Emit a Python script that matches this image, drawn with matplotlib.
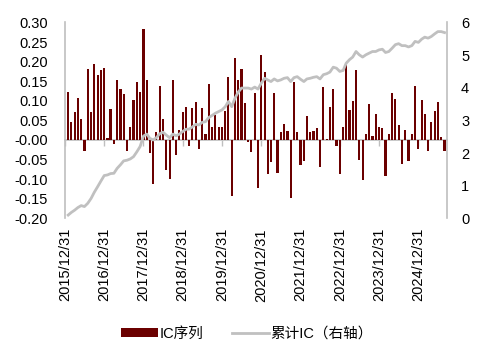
import matplotlib
matplotlib.use('Agg')
import matplotlib.pyplot as plt
import matplotlib.dates as mdates
import numpy as np
import pandas as pd

plt.rcParams['font.family'] = ['Liberation Sans', 'Noto Sans CJK SC', 'DejaVu Sans']
plt.rcParams['axes.unicode_minus'] = False

# monthly IC values (2016/01 .. 2025/08)
ic = [0.122, 0.046, 0.071, 0.107, 0.054, -0.028, 0.182, 0.072, 0.193, 0.165, 0.179, 0.185,
      0.006, 0.078, -0.011, 0.153, 0.129, 0.118, -0.029, 0.033, 0.102, 0.147, 0.123, 0.283,
      0.153, -0.034, -0.112, 0.021, 0.139, 0.054, -0.076, -0.100, 0.152, -0.039, 0.026, 0.072,
      0.085, -0.015, 0.081, 0.097, -0.024, 0.081, 0.016, 0.143, 0.032, 0.063, 0.032, 0.032,
      0.074, 0.162, -0.144, 0.209, 0.152, 0.182, 0.094, -0.004, -0.030, 0.120, -0.123, 0.218,
      0.174, -0.087, -0.055, 0.121, -0.085, 0.021, 0.040, 0.024, -0.148, 0.147, 0.021, -0.063,
      -0.053, 0.062, 0.021, 0.024, 0.031, -0.068, 0.136, 0.003, 0.084, 0.129, -0.015, -0.087,
      0.032, 0.191, 0.076, 0.099, 0.179, -0.052, -0.103, 0.016, 0.092, 0.011, 0.067, 0.032,
      0.031, -0.091, 0.014, 0.119, 0.105, 0.037, -0.062, 0.026, -0.053, 0.014, 0.137, -0.024,
      0.103, 0.067, -0.029, 0.047, 0.073, 0.097, 0.007, -0.029]

# cumulative IC (right axis)
cum_ic = [0.10, 0.18, 0.25, 0.33, 0.39, 0.36, 0.46, 0.61, 0.80, 0.97, 1.14, 1.31,
          1.33, 1.37, 1.38, 1.53, 1.64, 1.76, 1.78, 1.82, 1.89, 2.04, 2.20, 2.52,
          2.58, 2.45, 2.40, 2.47, 2.59, 2.64, 2.55, 2.47, 2.58, 2.53, 2.58, 2.66,
          2.73, 2.73, 2.80, 2.88, 2.86, 2.94, 2.96, 3.09, 3.15, 3.22, 3.27, 3.32,
          3.42, 3.58, 3.42, 3.68, 3.87, 3.99, 3.99, 3.99, 3.96, 4.02, 3.96, 4.14,
          4.29, 4.24, 4.19, 4.27, 4.21, 4.24, 4.29, 4.31, 4.19, 4.31, 4.34, 4.26,
          4.19, 4.27, 4.29, 4.32, 4.34, 4.27, 4.40, 4.43, 4.48, 4.63, 4.60, 4.50,
          4.53, 4.75, 4.86, 4.94, 5.11, 5.01, 4.94, 5.01, 5.06, 5.11, 5.11, 5.16,
          5.18, 5.08, 5.11, 5.21, 5.32, 5.35, 5.29, 5.29, 5.25, 5.29, 5.42, 5.39,
          5.49, 5.55, 5.52, 5.57, 5.65, 5.72, 5.72, 5.69]

dates = pd.date_range('2016-01-31', periods=len(ic), freq='ME')
year_ticks = pd.to_datetime(['%d-12-31' % y for y in range(2015, 2025)])
year_labels = ['%d/12/31' % y for y in range(2015, 2025)]

bar_color = '#6B0000'
line_color = '#C0C0C0'
axis_gray = '#BFBFBF'

fig = plt.figure(figsize=(4.84, 3.51), dpi=100)
ax = fig.add_axes([0.134, 0.378, 0.790, 0.558])
ax.bar(dates, ic, width=20, color=bar_color, label='IC序列', zorder=2)
ax.set_ylim(-0.2, 0.3)
ax.set_yticks(np.arange(-0.2, 0.301, 0.05))
ax.set_yticklabels(['%.2f' % v for v in np.arange(-0.2, 0.301, 0.05)])
ax.set_xlim(pd.Timestamp('2015-12-31'), pd.Timestamp('2025-09-25'))
ax.set_xticks(year_ticks)
ax.set_xticklabels(year_labels, rotation=90)
ax.tick_params(axis='x', length=0, pad=7, labelsize=10.5)
ax.tick_params(axis='y', length=0, pad=12, labelsize=10.5)
for s in ['top', 'right', 'bottom']:
    ax.spines[s].set_visible(False)
ax.spines['left'].set_color(axis_gray)
ax.spines['left'].set_linewidth(1.2)

# zero axis with year tick marks
zero_ax = ax.secondary_xaxis(0, transform=ax.transData)
zero_ax.set_xticks(year_ticks)
zero_ax.set_xticklabels([])
zero_ax.tick_params(axis='x', length=4, color=axis_gray, width=1)
zero_ax.spines['bottom'].set_color(axis_gray)
zero_ax.spines['bottom'].set_linewidth(1.2)

ax2 = ax.twinx()
ax2.plot(dates, cum_ic, color=line_color, lw=2, label='累计IC（右轴）')
ax2.set_ylim(0, 6)
ax2.set_yticks(range(0, 7))
ax2.tick_params(axis='y', length=0, pad=10, labelsize=10.5)
for s in ['top', 'left', 'bottom']:
    ax2.spines[s].set_visible(False)
ax2.spines['right'].set_color(axis_gray)
ax2.spines['right'].set_linewidth(1.2)

h1, l1 = ax.get_legend_handles_labels()
h2, l2 = ax2.get_legend_handles_labels()
fig.legend(h1 + h2, l1 + l2, loc='center', bbox_to_anchor=(0.51, 0.05), ncol=2,
           frameon=False, fontsize=10.5, handlelength=2.5, handleheight=0.55,
           handletextpad=0.1, columnspacing=2.0)

fig.savefig('out.png', dpi=100)
